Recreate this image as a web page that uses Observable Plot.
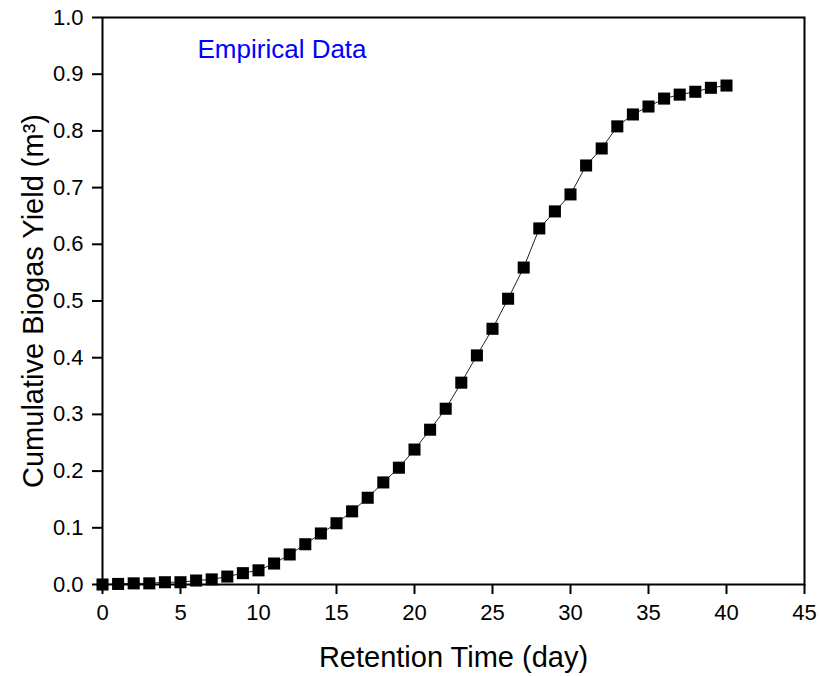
<!DOCTYPE html>
<html>
<head>
<meta charset="utf-8">
<script src="https://cdn.jsdelivr.net/npm/d3@7"></script>
<script src="https://cdn.jsdelivr.net/npm/@observablehq/plot@0.6"></script>
<style>
  html, body { margin: 0; padding: 0; background: #fff; }
  #chart svg { display: block; }
</style>
</head>
<body>
<div id="chart"></div>
<script>
const days = [0,1,2,3,4,5,6,7,8,9,10,11,12,13,14,15,16,17,18,19,20,21,22,23,24,25,26,27,28,29,30,31,32,33,34,35,36,37,38,39,40];
const yieldM3 = [0.000,0.001,0.002,0.002,0.004,0.004,0.007,0.009,0.014,0.020,0.025,0.037,0.053,0.071,0.090,0.108,0.129,0.153,0.180,0.206,0.238,0.273,0.310,0.356,0.404,0.451,0.504,0.559,0.628,0.658,0.688,0.739,0.769,0.808,0.829,0.843,0.857,0.864,0.869,0.876,0.880];
const xTicks = [0,5,10,15,20,25,30,35,40,45];
const yTicks = [0,0.1,0.2,0.3,0.4,0.5,0.6,0.7,0.8,0.9,1.0];
const xTitle = "Retention Time (day)";
const yTitle = "Cumulative Biogas Yield (m³)";
const annotation = "Empirical Data";

const data = days.map((d, i) => ({day: d, y: yieldM3[i]}));
const font = "Arial, 'Liberation Sans', sans-serif";

const chart = Plot.plot({
  width: 819,
  height: 676,
  marginLeft: 102,
  marginRight: 15,
  marginTop: 17,
  marginBottom: 92,
  style: {fontFamily: font, background: "#fff", color: "#000"},
  x: {domain: [0, 45]},
  y: {domain: [0, 1.0]},
  marks: [
    Plot.line(data, {x: "day", y: "y", stroke: "#222", strokeWidth: 1}),
    Plot.dot(data, {x: "day", y: "y", symbol: "square", r: 6.8, fill: "#000", stroke: "none"}),
    Plot.frame({stroke: "#000", strokeWidth: 2}),
    Plot.axisX({ticks: xTicks, tickSize: 10, tickPadding: 10, strokeWidth: 2, fontSize: 22, label: null, tickFormat: d3.format("d")}),
    Plot.axisY({ticks: yTicks, tickSize: 10, tickPadding: 9, strokeWidth: 2, fontSize: 22, label: null, tickFormat: d3.format(".1f")}),
    Plot.text([xTitle], {frameAnchor: "bottom", dy: 73, fontSize: 29, fill: "#000", textAnchor: "middle", lineAnchor: "middle"}),
    Plot.text([yTitle], {frameAnchor: "left", dx: -69, rotate: -90, fontSize: 29, fill: "#000", textAnchor: "middle", lineAnchor: "middle"}),
    Plot.text([annotation], {frameAnchor: "top-left", dx: 95, dy: 32, textAnchor: "start", lineAnchor: "middle", fontSize: 26, fill: "#0000FF"})
  ]
});
document.getElementById("chart").appendChild(chart);
</script>
</body>
</html>
